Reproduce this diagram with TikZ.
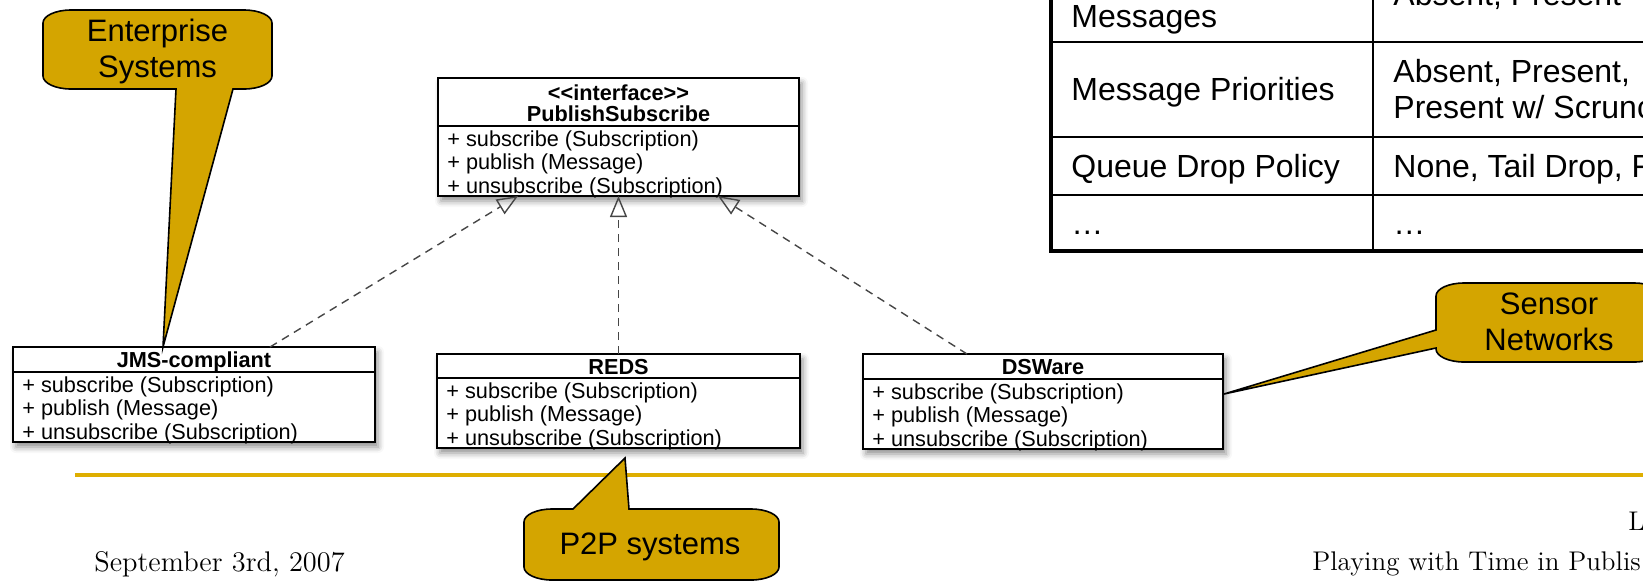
\documentclass[tikz,border=0pt]{standalone}
\usepackage{fontspec}
\setsansfont{Liberation Sans}
\usetikzlibrary{arrows.meta,calc,shadows.blur}
\definecolor{gold}{RGB}{212,165,0}
\definecolor{footgold}{RGB}{222,174,0}
\definecolor{dashgray}{RGB}{70,70,70}
\tikzset{
  classbox/.style={draw=black, line width=0.8pt, fill=white, inner sep=0pt, outer sep=0pt,
    blur shadow={shadow xshift=1.5pt, shadow yshift=-2.5pt, shadow blur radius=3pt, shadow opacity=45}},
  divline/.style={line width=0.8pt},
  umltext/.style={font=\sffamily\fontsize{10.85pt}{11.65pt}\selectfont, inner sep=0pt, anchor=base west},
  umltitle/.style={font=\sffamily\bfseries\fontsize{10.85pt}{11.65pt}\selectfont, inner sep=0pt, anchor=base},
  realize/.style={draw=dashgray, line width=0.7pt, dash pattern=on 4pt off 3pt,
    -{Triangle[open, length=10.5pt, width=8.5pt, line width=0.7pt]}},
  callout/.style={draw=black, line width=0.8pt, fill=gold},
  calltext/.style={font=\sffamily\fontsize{15.5pt}{18pt}\selectfont, inner sep=0pt, align=center},
  tabtext/.style={font=\sffamily\fontsize{16pt}{18pt}\selectfont, inner sep=0pt, anchor=base west},
  outerline/.style={line width=2pt},
  innerline/.style={line width=1.35pt},
  footer/.style={font=\fontsize{13.5pt}{16pt}\selectfont, inner sep=0pt, anchor=base west},
}
\newcommand\classmethods[2]{%
  \node[umltext] (#1-m1) at ($(#1.north west)+(9,#2+20.5)$) {+ subscribe (Subscription)};
  \node[umltext] (#1-m2) at ($(#1.north west)+(9,#2+43.8)$) {+ publish (Message)};
  \node[umltext] (#1-m3) at ($(#1.north west)+(9,#2+67.1)$) {+ unsubscribe (Subscription)};
  \draw[divline] ($(#1.north west)+(0,#2)$) -- ($(#1.north east)+(0,#2)$);
}
\begin{document}
\begin{tikzpicture}[x=0.5pt, y=-0.5pt]
\useasboundingbox (0,0) rectangle (1643,580);
\clip (0,0) rectangle (1643,580);

% ---------- table (cut off at top/right) ----------
\draw[innerline] (1373,-10) -- (1373,251);
\draw[innerline] (1051,42) -- (1660,42);
\draw[innerline] (1051,137) -- (1660,137);
\draw[innerline] (1051,195) -- (1660,195);
\draw[outerline] (1051,-10) -- (1051,251) -- (1660,251);
\node[tabtext] (t-msgs) at (1071,27) {Messages};
\node[tabtext] (t-msgs-v) at (1393,5) {Absent, Present};
\node[tabtext] (t-prio) at (1071,100.5) {Message Priorities};
\node[tabtext] (t-prio-v1) at (1393,82.5) {Absent, Present,};
\node[tabtext] (t-prio-v2) at (1393,118.5) {Present w/ Scrunc};
\node[tabtext] (t-queue) at (1071,177.5) {Queue Drop Policy};
\node[tabtext] (t-queue-v) at (1393,177.5) {None, Tail Drop, F};
\node[tabtext] (t-dots) at (1071,234) {…};
\node[tabtext] (t-dots-v) at (1393,234) {…};

% ---------- UML classes ----------
\node[classbox, minimum width=180.5pt, minimum height=59pt] (iface) at (618.5,137) {};
\node[umltitle] (iface-st) at ($(iface.north)+(0,22)$) {<{}<interface>{}>};
\node[umltitle] (iface-t) at ($(iface.north)+(0,43)$) {PublishSubscribe};
\classmethods{iface}{48}

\node[classbox, minimum width=181pt, minimum height=47.5pt] (jms) at (194,394.5) {};
\node[umltitle] (jms-t) at ($(jms.north)+(0,20.5)$) {JMS-compliant};
\classmethods{jms}{25}

\node[classbox, minimum width=181.5pt, minimum height=47pt] (reds) at (618.5,401) {};
\node[umltitle] (reds-t) at ($(reds.north)+(0,20.5)$) {REDS};
\classmethods{reds}{24}

\node[classbox, minimum width=180pt, minimum height=47.5pt] (dsware) at (1043,401.5) {};
\node[umltitle] (dsware-t) at ($(dsware.north)+(0,20.5)$) {DSWare};
\classmethods{dsware}{25}

% ---------- realizations ----------
\draw[realize] ($(jms.north west)+(257,0)$) -- ($(iface.south west)+(80,0)$);
\draw[realize] (reds.north) -- (iface.south);
\draw[realize] ($(dsware.north west)+(104,0)$) -- ($(iface.south west)+(280,0)$);

% ---------- footer ----------
\draw[line width=2pt, footgold] (75,475) -- (1643,475);
\node[footer, font=\fontsize{14.2pt}{16pt}\selectfont] (date) at (94,571) {September 3rd, 2007};
\node[footer] (title) at (1312,570) {Playing with Time in Publis};
\node[footer] (pg) at (1628,530) {L};

% ---------- callouts ----------
\coordinate (tipE) at ($(jms.north west)+(150,0)$);
\draw[callout] (176,89) -- (tipE) -- (233,89) -- (244,89)
  .. controls (259.5,89) and (272,83.2) .. (272,76) -- (272,23)
  .. controls (272,15.8) and (259.5,10) .. (244,10) -- (71,10)
  .. controls (55.5,10) and (43,15.8) .. (43,23) -- (43,76)
  .. controls (43,83.2) and (55.5,89) .. (71,89) -- cycle;
\node[calltext] (ent) at (157.5,51) {Enterprise\\Systems};

\coordinate (tipS) at ($(dsware.north east)+(1,40)$);
\draw[callout] (1436,330) -- (tipS) -- (1436,348) -- (1436,349)
  .. controls (1436,356.2) and (1448.5,362) .. (1464,362) -- (1634,362)
  .. controls (1649.5,362) and (1662,356.2) .. (1662,349) -- (1662,296)
  .. controls (1662,288.8) and (1649.5,283) .. (1634,283) -- (1464,283)
  .. controls (1448.5,283) and (1436,288.8) .. (1436,296) -- cycle;
\node[calltext] (sens) at (1549,322) {Sensor\\Networks};

\coordinate (tipP) at ($(reds.south west)+(188,10)$);
\draw[callout] (573,509) -- (tipP) -- (629,509) -- (751,509)
  .. controls (766.5,509) and (779,514.8) .. (779,522) -- (779,567)
  .. controls (779,574.2) and (766.5,580) .. (751,580) -- (552,580)
  .. controls (536.5,580) and (524,574.2) .. (524,567) -- (524,522)
  .. controls (524,514.8) and (536.5,509) .. (552,509) -- cycle;
\node[calltext] (p2p) at (650,547) {P2P systems};
\end{tikzpicture}
\end{document}
